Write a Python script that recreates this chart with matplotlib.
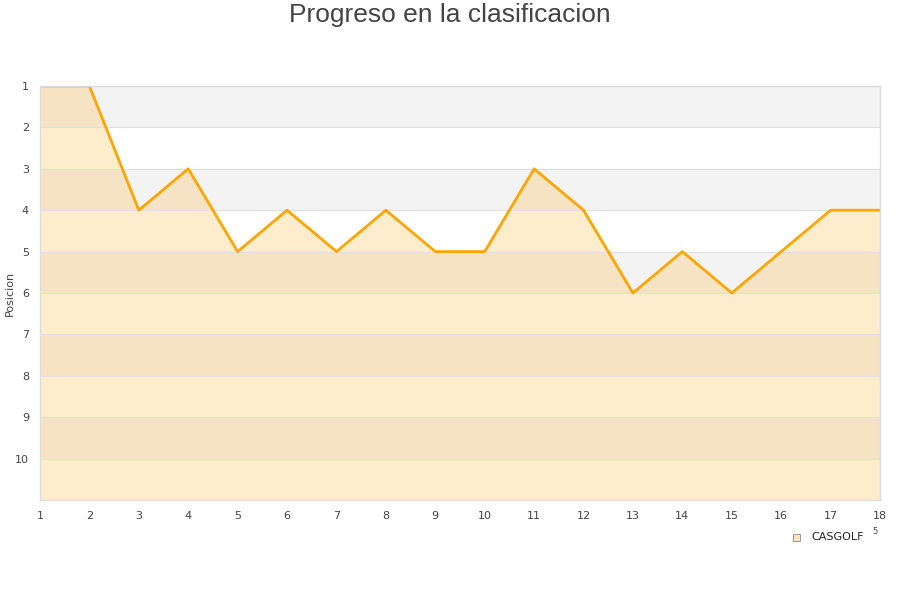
import matplotlib
matplotlib.use("Agg")
import matplotlib.pyplot as plt

rounds = list(range(1, 19))
positions = [1, 1, 4, 3, 5, 4, 5, 4, 5, 5, 3, 4, 6, 5, 6, 5, 4, 4]
series_name = "CASGOLF"
title = "Progreso en la clasificacion"
ylabel = "Posicion"
ytick_vals = list(range(1, 11))

fig = plt.figure(figsize=(9, 6), dpi=100)
ax = fig.add_axes([40/900, 100/600, 840/900, 414/600])

# alternating bands
for k in range(1, 11):
    if k % 2 == 1:
        ax.axhspan(k, k + 1, color="#f3f3f3", zorder=0, lw=0)

fill = ax.fill_between(rounds, positions, 11, color="#feedcc", lw=0, zorder=1)
clip_path = fill.get_paths()[0]
for k in range(1, 11):
    if k % 2 == 1:
        band = ax.axhspan(k, k + 1, color="#f6e3c3", zorder=1.5, lw=0)
        band.set_clip_path(clip_path, ax.transData)
for k in range(1, 11):
    ax.axhline(k, color="#e0e0e0", lw=0.8, zorder=1.8)
    
ax.plot(rounds, positions, color="#ffa500", lw=2, zorder=3)

ax.set_xlim(1, 18)
ax.set_ylim(11, 1)
ax.set_xticks(rounds)
ax.set_yticks(ytick_vals)
ax.tick_params(length=0, labelsize=8, colors="#444444", pad=8)
for s in ax.spines.values():
    s.set_color("#dddddd")
    s.set_linewidth(1)
    s.set_zorder(4)

fig.text(10/900, 1 - 293/600, ylabel, rotation=90, ha="center", va="center",
         fontsize=8, color="#444444")

fig.text(0.5, 1 - 15/600, title, ha="center", va="center", fontsize=19,
         color="#444444", family="Liberation Sans")

# legend
fig.patches.append(plt.Rectangle((793/900, 1 - 541/600), 7/900, 7/600,
                                 transform=fig.transFigure, facecolor="#fde4bd",
                                 edgecolor="#999999", lw=0.7))
fig.text(811/900, 1 - 537/600, series_name, ha="left", va="center", fontsize=8, color="#222222")
fig.text(875/900, 1 - 532/600, "5", ha="center", va="center", fontsize=6, color="#444444")

fig.savefig("out.png", dpi=100)
